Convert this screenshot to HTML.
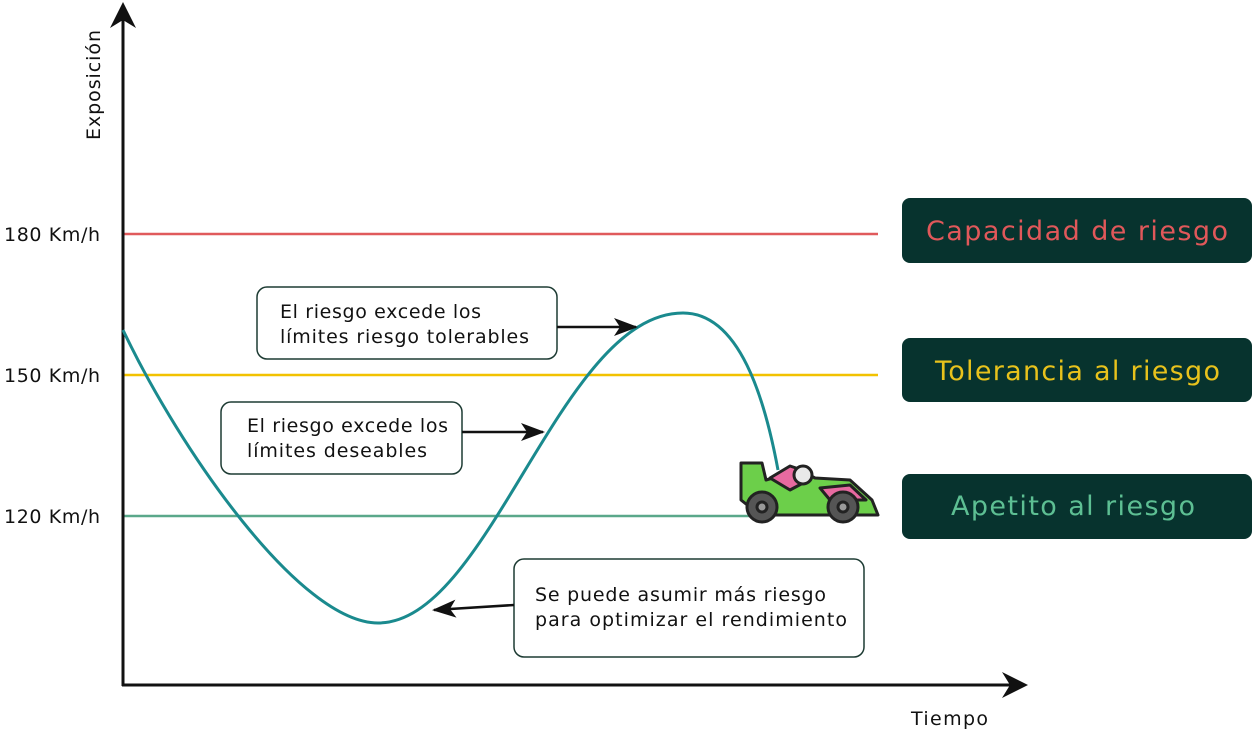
<!DOCTYPE html><html><head><style>body{margin:0;background:#fff}svg text{font-family:"DejaVu Sans","Liberation Sans",sans-serif}</style></head><body>
<svg width="1253" height="733" viewBox="0 0 1253 733" xmlns="http://www.w3.org/2000/svg">
<defs><marker id="a" markerWidth="24" markerHeight="20" refX="22" refY="10" orient="auto" markerUnits="userSpaceOnUse"><path d="M0,1 L24,10 L0,19 L6,10Z" fill="#111"/></marker></defs>
<line x1="123" y1="234" x2="878" y2="234" stroke="#e05a5c" stroke-width="2.5"/>
<line x1="123" y1="375" x2="878" y2="375" stroke="#f2c200" stroke-width="2.5"/>
<line x1="123" y1="516" x2="760" y2="516" stroke="#5aa88a" stroke-width="2.5"/>
<line x1="123" y1="686" x2="123" y2="18" stroke="#111" stroke-width="3"/>
<path d="M123,2 L136,28 L123,20 L110,28Z" fill="#111"/>
<line x1="122" y1="685" x2="1012" y2="685" stroke="#111" stroke-width="3"/>
<path d="M1028,685 L1002,672 L1010,685 L1002,698Z" fill="#111"/>
<text x="100" y="85" font-size="19" transform="rotate(-90 100 85)" text-anchor="middle" fill="#111" textLength="110">Exposición</text>
<text x="4" y="241" font-size="19" fill="#111" textLength="96">180 Km/h</text>
<text x="4" y="382" font-size="19" fill="#111" textLength="96">150 Km/h</text>
<text x="4" y="523" font-size="19" fill="#111" textLength="96">120 Km/h</text>
<text x="911" y="725" font-size="19" fill="#111" textLength="77">Tiempo</text>
<path d="M123,330 C180,450 300,623 378,623 C490,623 560,313 683,313 C740,313 765,400 778,470" fill="none" stroke="#1a8a8e" stroke-width="3"/>
<g font-weight="bold">
<rect x="902" y="198" width="350" height="65" rx="8" fill="#07332e"/>
<text x="926" y="240" font-size="27" fill="#e0585a" textLength="302" font-weight="normal">Capacidad de riesgo</text>
<rect x="902" y="338" width="350" height="64" rx="8" fill="#07332e"/>
<text x="935" y="380" font-size="27" fill="#e8c21c" textLength="285" font-weight="normal">Tolerancia al riesgo</text>
<rect x="902" y="474" width="350" height="65" rx="8" fill="#07332e"/>
<text x="951" y="515" font-size="27" fill="#5dbf93" textLength="244" font-weight="normal">Apetito al riesgo</text>
</g>
<g stroke="#1d3b33" stroke-width="1.5" fill="#fff">
<rect x="257" y="287" width="300" height="72" rx="10"/>
<rect x="221" y="402" width="241" height="72" rx="10"/>
<rect x="514" y="559" width="350" height="98" rx="10"/>
</g>
<g font-size="19" fill="#111">
<text x="280" y="318" textLength="201">El riesgo excede los</text><text x="280" y="343" textLength="249">límites riesgo tolerables</text>
<text x="247" y="432" textLength="201">El riesgo excede los</text><text x="247" y="457" textLength="180">límites deseables</text>
<text x="535" y="601" textLength="291">Se puede asumir más riesgo</text><text x="535" y="626" textLength="312">para optimizar el rendimiento</text>
</g>
<g stroke="#111" stroke-width="2.5" marker-end="url(#a)">
<line x1="557" y1="327" x2="636" y2="327"/>
<line x1="462" y1="432" x2="543" y2="432"/>
<line x1="514" y1="605" x2="434" y2="610"/>
</g>
<g stroke="#222" stroke-width="3" stroke-linejoin="round">
<path d="M741,463 L762,463 L766,480 L800,470 L815,478 L850,480 L872,500 L878,515 L760,515 L741,500Z" fill="#6ccf4a"/>
<path d="M770,478 L790,466 L802,470 L805,482 L790,490Z" fill="#e76aa0"/>
<path d="M820,488 L850,485 L866,500 L830,500Z" fill="#e76aa0"/>
<circle cx="803" cy="475" r="9" fill="#e9e9e9"/>
<circle cx="762" cy="507" r="15" fill="#555"/><circle cx="762" cy="507" r="5" fill="#999"/>
<circle cx="843" cy="507" r="15" fill="#555"/><circle cx="843" cy="507" r="5" fill="#999"/>
</g>
</svg>
</body></html>
